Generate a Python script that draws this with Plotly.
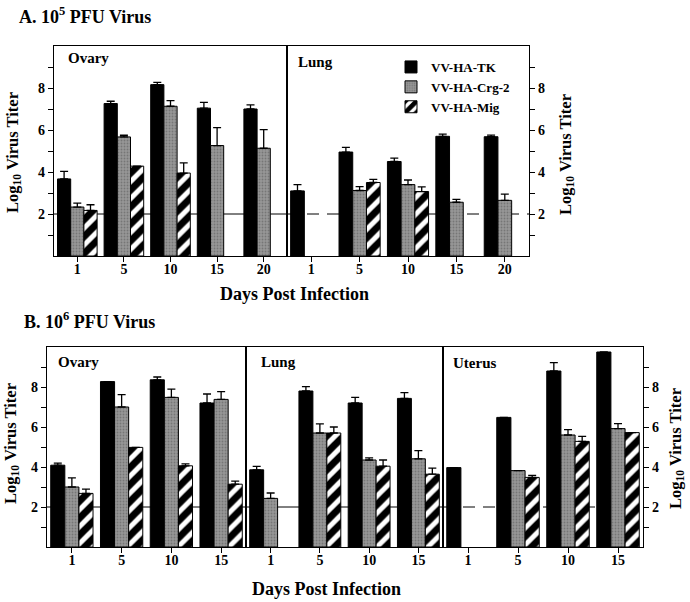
import plotly.graph_objects as go

W, H = 690, 602


def px(x):
    return x / W


def py(y):
    return 1 - y / H


SERIES = ["VV-HA-TK", "VV-HA-Crg-2", "VV-HA-Mig"]
DETECTION_LIMIT = 2

# A. 10^5 PFU
A_DAYS = ["1", "5", "10", "15", "20"]
A_OVARY_TK = [3.67, 7.26, 8.16, 7.04, 7.00]
A_OVARY_TK_ERR = [0.36, 0.11, 0.11, 0.28, 0.20]
A_OVARY_CRG = [2.33, 5.67, 7.13, 5.26, 5.13]
A_OVARY_CRG_ERR = [0.19, 0.08, 0.27, 0.85, 0.89]
A_OVARY_MIG = [2.17, 4.28, 3.95, None, None]
A_OVARY_MIG_ERR = [0.27, None, 0.48, None, None]

A_LUNG_TK = [3.10, 4.95, 4.50, 5.70, 5.68]
A_LUNG_TK_ERR = [0.30, 0.22, 0.16, 0.10, 0.08]
A_LUNG_CRG = [None, 3.12, 3.40, 2.56, 2.65]
A_LUNG_CRG_ERR = [None, 0.18, 0.22, 0.14, 0.30]
A_LUNG_MIG = [None, 3.50, 3.07, None, None]
A_LUNG_MIG_ERR = [None, 0.15, 0.22, None, None]

# B. 10^6 PFU
B_DAYS = ["1", "5", "10", "15"]
B_OVARY_TK = [4.09, 8.27, 8.36, 7.20]
B_OVARY_TK_ERR = [0.10, None, 0.14, 0.45]
B_OVARY_CRG = [3.00, 7.00, 7.48, 7.38]
B_OVARY_CRG_ERR = [0.46, 0.62, 0.41, 0.39]
B_OVARY_MIG = [2.68, 4.98, 4.06, 3.14]
B_OVARY_MIG_ERR = [0.21, None, 0.10, 0.15]

B_LUNG_TK = [3.86, 7.80, 7.20, 7.43]
B_LUNG_TK_ERR = [0.17, 0.22, 0.28, 0.29]
B_LUNG_CRG = [2.43, 5.70, 4.35, 4.41]
B_LUNG_CRG_ERR = [0.27, 0.46, 0.11, 0.41]
B_LUNG_MIG = [None, 5.70, 4.04, 3.64]
B_LUNG_MIG_ERR = [None, 0.30, 0.31, 0.30]

B_UTERUS_TK = [3.97, 6.48, 8.80, 9.75]
B_UTERUS_TK_ERR = [None, None, 0.42, None]
B_UTERUS_CRG = [None, 3.82, 5.60, 5.92]
B_UTERUS_CRG_ERR = [None, None, 0.27, 0.25]
B_UTERUS_MIG = [None, 3.48, 5.28, 5.72]
B_UTERUS_MIG_ERR = [None, 0.10, 0.25, None]

FONT = "Liberation Serif"

markers = [
    dict(color="black", line=dict(color="black", width=1)),
    dict(color="#8a8a8a", line=dict(color="black", width=1),
         pattern=dict(shape=".", fgcolor="#555555", bgcolor="#979797", size=3, solidity=0.3)),
    dict(color="white", line=dict(color="black", width=1),
         pattern=dict(shape="/", fillmode="replace", fgcolor="#000000", fgopacity=1,
                      bgcolor="white", size=12, solidity=0.58)),
]

# (axis suffix, days, [(values, errors) per series])
panels = [
    ("", A_DAYS, [(A_OVARY_TK, A_OVARY_TK_ERR), (A_OVARY_CRG, A_OVARY_CRG_ERR), (A_OVARY_MIG, A_OVARY_MIG_ERR)]),
    ("2", A_DAYS, [(A_LUNG_TK, A_LUNG_TK_ERR), (A_LUNG_CRG, A_LUNG_CRG_ERR), (A_LUNG_MIG, A_LUNG_MIG_ERR)]),
    ("3", B_DAYS, [(B_OVARY_TK, B_OVARY_TK_ERR), (B_OVARY_CRG, B_OVARY_CRG_ERR), (B_OVARY_MIG, B_OVARY_MIG_ERR)]),
    ("4", B_DAYS, [(B_LUNG_TK, B_LUNG_TK_ERR), (B_LUNG_CRG, B_LUNG_CRG_ERR), (B_LUNG_MIG, B_LUNG_MIG_ERR)]),
    ("5", B_DAYS, [(B_UTERUS_TK, B_UTERUS_TK_ERR), (B_UTERUS_CRG, B_UTERUS_CRG_ERR), (B_UTERUS_MIG, B_UTERUS_MIG_ERR)]),
]

fig = go.Figure()
for k, (sfx, days, series) in enumerate(panels):
    for i, (vals, errs) in enumerate(series):
        fig.add_trace(go.Bar(
            x=days, y=vals, name=SERIES[i], legendgroup=SERIES[i],
            showlegend=(k == 0), marker=markers[i],
            xaxis="x" + sfx, yaxis="y" + sfx,
            error_y=dict(type="data", symmetric=False, array=errs,
                         arrayminus=[0] * len(days), color="black",
                         thickness=1.3, width=4),
        ))

tickfont = dict(family=FONT, size=14, color="black", weight="bold")
yvals = list(range(1, 10))
ytext = [str(v) if v % 2 == 0 else "" for v in yvals]


def xax(x0, x1, yid):
    return dict(domain=[px(x0), px(x1)], anchor=yid, type="category",
                showline=True, linecolor="black", linewidth=1.2, mirror=True,
                ticks="outside", ticklen=5, tickcolor="black", tickfont=tickfont,
                ticklabelstandoff=-5,
                showgrid=False, zeroline=False, fixedrange=True)


def yax(y0, y1, xid, side, labels=True):
    d = dict(domain=[py(y1), py(y0)], anchor=xid, range=[0, 10], side=side,
             showline=True, linecolor="black", linewidth=1.2, mirror=True,
             showgrid=False, zeroline=False, tickfont=tickfont, fixedrange=True)
    if labels:
        d.update(tickvals=yvals, ticktext=ytext, ticks="outside", ticklen=5, tickcolor="black")
    else:
        d.update(showticklabels=False, ticks="")
    return d


fig.update_layout(
    width=W, height=H, margin=dict(l=0, r=0, t=0, b=0),
    paper_bgcolor="white", plot_bgcolor="white",
    barmode="group", bargap=0.15, bargroupgap=0,
    font=dict(family=FONT, color="black"),
    xaxis=xax(54, 287, "y"), yaxis=yax(46, 256, "x", "left"),
    xaxis2=xax(287, 529, "y2"), yaxis2=yax(46, 256, "x2", "right"),
    xaxis3=xax(47, 246, "y3"), yaxis3=yax(347, 547, "x3", "left"),
    xaxis4=xax(246, 443, "y4"), yaxis4=yax(347, 547, "x4", "left", labels=False),
    xaxis5=xax(443, 643, "y5"), yaxis5=yax(347, 547, "x5", "right"),
    legend=dict(x=px(391), y=py(52), xanchor="left", yanchor="top",
                bgcolor="rgba(0,0,0,0)", font=dict(family=FONT, size=13, weight="bold"),
                tracegroupgap=0, itemwidth=30),
)

# detection limit lines behind the bars
for sfx, dash in [("", "solid"), ("2", "12px,8px"), ("3", "solid"), ("4", "solid"), ("5", "12px,8px")]:
    fig.add_shape(type="line", xref="x%s domain" % sfx, yref="y" + sfx,
                  x0=0, x1=1, y0=DETECTION_LIMIT, y1=DETECTION_LIMIT,
                  line=dict(color="black", width=1, dash=dash), layer="below")

big = dict(family=FONT, size=18, color="black", weight="bold")
organ = dict(family=FONT, size=15, color="black", weight="bold")
ylab = dict(family=FONT, size=16.5, color="black", weight="bold")
ytitle = "Log<sub>10</sub> Virus Titer"

notes = [
    (17, 16, "A. 10<sup>5</sup> PFU Virus", big, 0, "left"),
    (22, 320, "B. 10<sup>6</sup> PFU Virus", big, 0, "left"),
    (294, 294, "Days Post Infection", big, 0, "center"),
    (326, 589, "Days Post Infection", big, 0, "center"),
    (66, 58, "Ovary", organ, 0, "left"),
    (296, 62, "Lung", organ, 0, "left"),
    (56, 362, "Ovary", organ, 0, "left"),
    (259, 362, "Lung", organ, 0, "left"),
    (451, 363, "Uterus", organ, 0, "left"),
    (13, 153, ytitle, ylab, -90, "center"),
    (566, 155, ytitle, ylab, -90, "center"),
    (11, 444, ytitle, ylab, -90, "center"),
    (676, 449, ytitle, ylab, -90, "center"),
]
for x, y, text, font, ang, anchor in notes:
    fig.add_annotation(x=px(x), y=py(y), xref="paper", yref="paper", text=text,
                       showarrow=False, font=font, textangle=ang,
                       xanchor=anchor if ang == 0 else "center", yanchor="middle")

fig.write_html("out.html", config={"displayModeBar": False},
               post_script="document.body.style.margin='0';")
